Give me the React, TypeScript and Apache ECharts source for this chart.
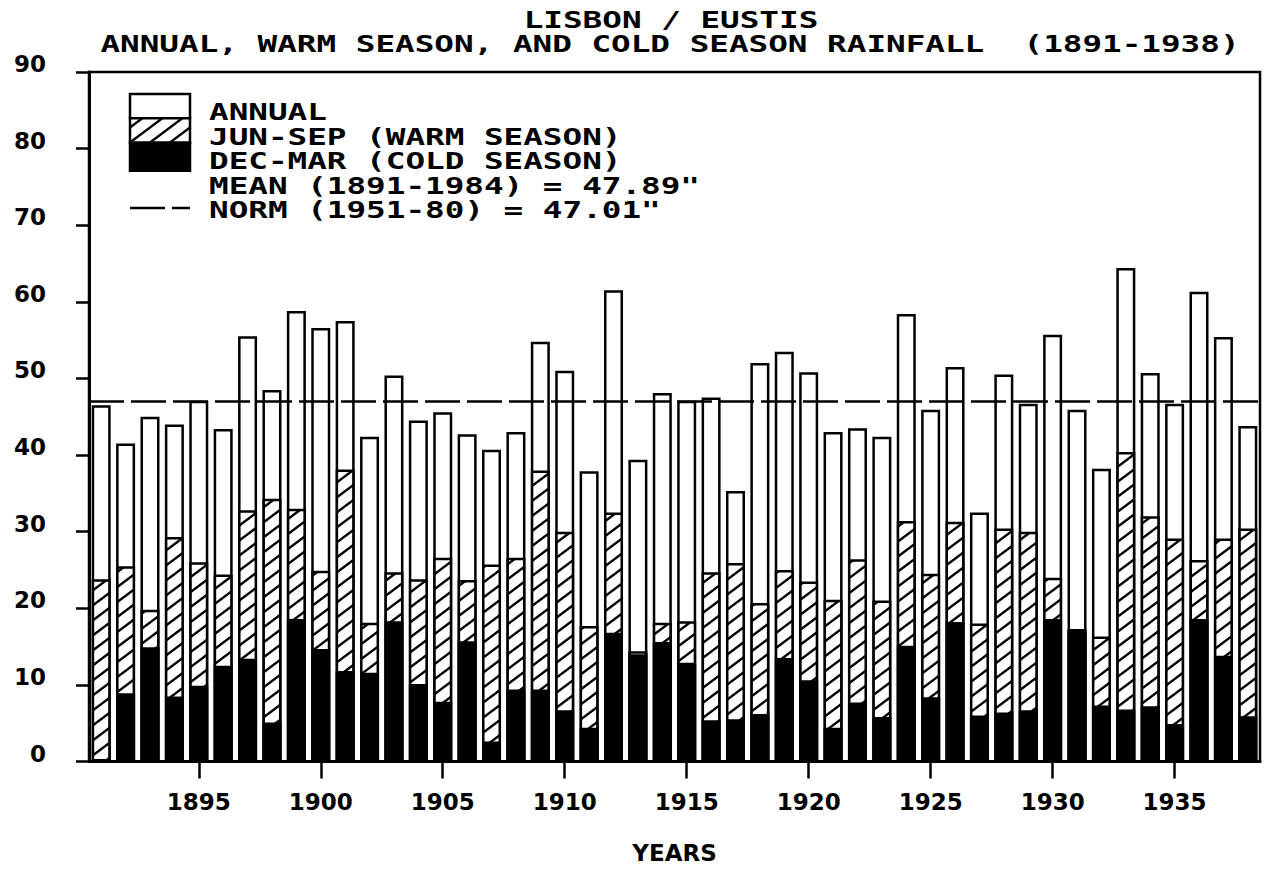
import React, { useEffect, useRef } from "react";
import * as echarts from "echarts";

const years: number[] = [];
for (let y = 1891; y <= 1938; y++) years.push(y);

const annual = [
  46.5, 41.5, 45.0, 44.0, 47.1, 43.4, 55.5, 48.5, 58.8, 56.6,
  57.5, 42.4, 50.4, 44.5, 45.6, 42.7, 40.7, 43.0, 54.8, 51.0,
  37.9, 61.5, 39.4, 48.1, 47.1, 47.5, 35.3, 52.0, 53.5, 50.8,
  43.0, 43.5, 42.4, 58.4, 45.9, 51.5, 32.5, 50.5, 46.7, 55.7,
  45.9, 38.2, 64.4, 50.7, 46.7, 61.3, 55.4, 43.8,
];

const warmSeason = [
  23.8, 25.5, 19.8, 29.3, 26.0, 24.4, 32.8, 34.3, 33.0, 24.9,
  38.1, 18.1, 24.7, 23.8, 26.6, 23.7, 25.7, 26.6, 38.0, 30.0,
  17.7, 32.5, 14.4, 18.1, 18.3, 24.7, 25.9, 20.7, 25.0, 23.5,
  21.1, 26.4, 21.0, 31.4, 24.5, 31.3, 18.0, 30.4, 30.0, 24.0,
  17.0, 16.3, 40.4, 32.0, 29.1, 26.3, 29.1, 30.4,
];

const coldSeason: (number | null)[] = [
  null, 8.9, 14.9, 8.5, 9.9, 12.5, 13.4, 5.1, 18.6, 14.7,
  11.8, 11.6, 18.3, 10.1, 7.8, 15.7, 2.6, 9.4, 9.4, 6.7,
  4.4, 16.8, 14.0, 15.6, 12.9, 5.4, 5.5, 6.2, 13.5, 10.6,
  4.4, 7.7, 5.8, 15.1, 8.4, 18.2, 6.0, 6.4, 6.7, 18.6,
  17.3, 7.3, 6.8, 7.2, 4.9, 18.6, 13.8, 5.9,
];

const normValue = 47.01;
const yMin = 0;
const yMax = 90;
const yInterval = 10;

const titleLines = [
  "LISBON / EUSTIS",
  "ANNUAL, WARM SEASON, AND COLD SEASON RAINFALL  (1891-1938)",
];
const seriesNames = ["ANNUAL", "JUN-SEP (WARM SEASON)", "DEC-MAR (COLD SEASON)"];
const legendExtra = ['MEAN (1891-1984) = 47.89"', 'NORM (1951-80) = 47.01"'];
const xAxisName = "YEARS";

function makeHatch(): HTMLCanvasElement {
  const c = document.createElement("canvas");
  c.width = 20;
  c.height = 15;
  const ctx = c.getContext("2d")!;
  ctx.fillStyle = "#fff";
  ctx.fillRect(0, 0, 20, 15);
  ctx.strokeStyle = "#000";
  ctx.lineWidth = 2.4;
  for (let k = -1; k <= 1; k++) {
    ctx.beginPath();
    ctx.moveTo(-5, 15 + 15 * k + 3.75);
    ctx.lineTo(25, 15 + 15 * k - 18.75);
    ctx.stroke();
  }
  return c;
}

const MONO = '"DejaVu Sans Mono", monospace';
const SANS = '"DejaVu Sans", sans-serif';

export default function App() {
  const ref = useRef<HTMLDivElement>(null);

  useEffect(() => {
    if (!ref.current) return;
    const chart = echarts.init(ref.current, undefined, { renderer: "svg" });

    const mctx = document.createElement("canvas").getContext("2d")!;
    mctx.font = `bold 23px ${MONO}`;
    const adv = mctx.measureText("MMMMMMMMMM").width / 10 || 13.85;
    const sx = 19.65 / adv;

    const hatchCanvas = makeHatch();
    const hatch: any = {
      image: hatchCanvas,
      repeat: "repeat",
      imageWidth: 20,
      imageHeight: 15,
    };

    const textStyle = (text: string, align: string) => ({
      text,
      fontFamily: MONO,
      fontWeight: "bold",
      fontSize: 23,
      fill: "#000",
      align,
      verticalAlign: "middle",
    });

    const legendX = 130;
    const legendTextX = 209;
    const legendTextY = [112, 137, 161.5, 186.5, 210];

    const graphic: any[] = [
      { type: "text", x: 671, y: 20, scaleX: sx, style: textStyle(titleLines[0], "center") },
      { type: "text", x: 670, y: 44, scaleX: sx, style: textStyle(titleLines[1], "center") },
      {
        type: "rect",
        shape: { x: legendX, y: 94, width: 60, height: 24.3 },
        style: { fill: "#fff", stroke: "#000", lineWidth: 2.5 },
      },
      {
        type: "rect",
        shape: { x: legendX, y: 118.3, width: 60, height: 24.4 },
        style: { fill: hatch, stroke: "#000", lineWidth: 2.5 },
      },
      {
        type: "rect",
        shape: { x: legendX, y: 142.7, width: 60, height: 28 },
        style: { fill: "#000", stroke: "#000", lineWidth: 2.5 },
      },
      {
        type: "line",
        shape: { x1: legendX, y1: 208, x2: legendX + 60, y2: 208 },
        style: { stroke: "#000", lineWidth: 2.5, lineDash: [35, 7] },
      },
    ];
    const legendTexts = [...seriesNames, ...legendExtra];
    legendTexts.forEach((t, i) => {
      graphic.push({
        type: "text",
        x: legendTextX,
        y: legendTextY[i],
        scaleX: sx,
        style: textStyle(t, "left"),
      });
    });

    const fiveYear = (index: number) => years[index] % 5 === 0;

    const barCommon = {
      type: "bar",
      barWidth: 19,
      barGap: "-100%",
      silent: true,
    };

    chart.setOption({
      animation: false,
      backgroundColor: "#fff",
      grid: {
        left: 89,
        right: 6,
        top: 72,
        bottom: 107,
        show: true,
        borderColor: "#000",
        borderWidth: 2.5,
        backgroundColor: "transparent",
      },
      xAxis: {
        type: "category",
        data: years.map(String),
        boundaryGap: true,
        name: xAxisName,
        nameLocation: "middle",
        nameGap: 91,
        nameTextStyle: {
          fontFamily: SANS,
          fontWeight: "bold",
          fontSize: 23,
          color: "#000",
          verticalAlign: "middle",
        },
        axisLine: { show: true, lineStyle: { color: "#000", width: 3 } },
        axisTick: {
          show: true,
          alignWithLabel: true,
          interval: fiveYear,
          length: 17,
          lineStyle: { color: "#000", width: 2.5 },
        },
        axisLabel: {
          interval: fiveYear,
          margin: 29,
          fontFamily: SANS,
          fontWeight: "bold",
          fontSize: 23,
          color: "#000",
        },
        splitLine: { show: false },
      },
      yAxis: {
        type: "value",
        min: yMin,
        max: yMax,
        interval: yInterval,
        axisLine: { show: true, lineStyle: { color: "#000", width: 3 } },
        axisTick: { show: true, length: 13, lineStyle: { color: "#000", width: 2.5 } },
        axisLabel: {
          margin: 43,
          fontFamily: SANS,
          fontWeight: "bold",
          fontSize: 23,
          color: "#000",
          verticalAlign: "bottom",
          lineHeight: 16,
        },
        splitLine: { show: false },
      },
      series: [
        {
          ...barCommon,
          name: seriesNames[0],
          data: annual,
          itemStyle: { color: "#fff", borderColor: "#000", borderWidth: 2.5 },
        },
        {
          ...barCommon,
          name: seriesNames[1],
          data: warmSeason,
          itemStyle: { color: hatch, borderColor: "#000", borderWidth: 2.5 },
        },
        {
          ...barCommon,
          name: seriesNames[2],
          data: coldSeason,
          itemStyle: { color: "#000", borderColor: "#000", borderWidth: 2.5 },
          markLine: {
            silent: true,
            symbol: ["none", "none"],
            label: { show: false },
            lineStyle: { color: "#000", width: 2.5, type: [35, 7] },
            data: [{ yAxis: normValue }],
          },
        },
      ],
      graphic,
    });

    return () => chart.dispose();
  }, []);

  return (
    <div
      ref={ref}
      style={{ position: "fixed", left: 0, top: 0, width: 1266, height: 869, background: "#fff" }}
    />
  );
}
